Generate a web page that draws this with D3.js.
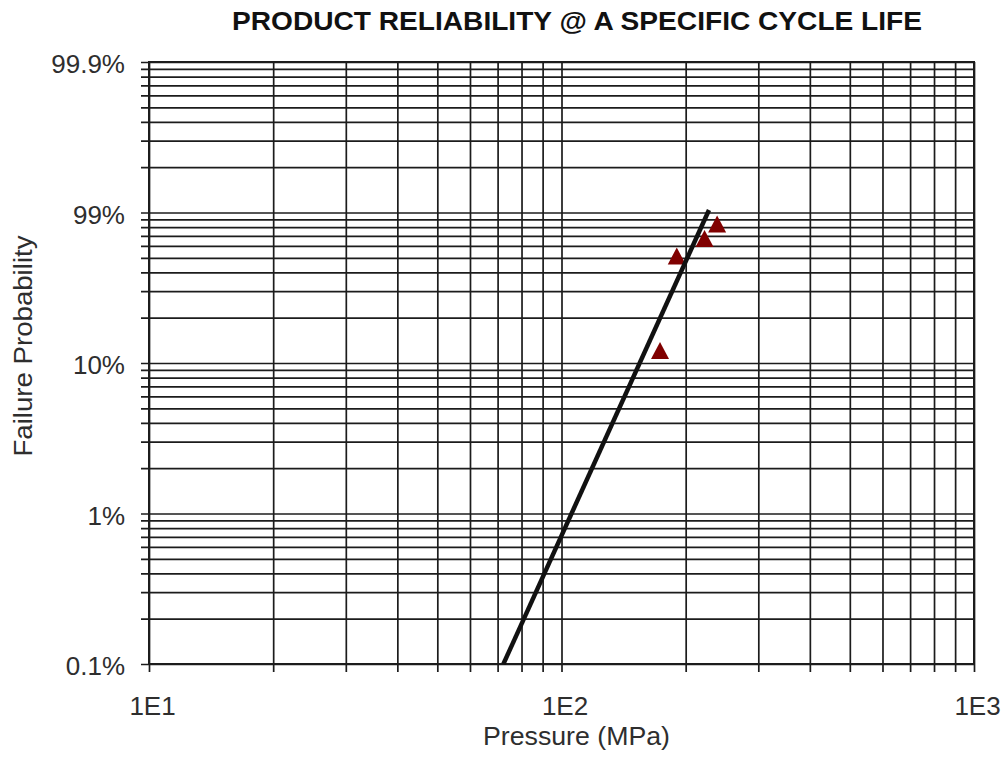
<!DOCTYPE html>
<html>
<head>
<meta charset="utf-8">
<script src="https://cdn.jsdelivr.net/npm/d3@7/dist/d3.min.js"></script>
<style>
  html, body { margin: 0; padding: 0; background: #fff; }
  svg { display: block; }
</style>
</head>
<body>
<svg id="chart" width="1005" height="768"></svg>
<script>
// ---- data ----
const titleText = "PRODUCT RELIABILITY @ A SPECIFIC CYCLE LIFE";
const xTitle = "Pressure (MPa)";
const yTitle = "Failure Probability";
const xDomain = [10, 1000];
const yDomain = [0.001, 10];
const xTickValues = [10, 100, 1000];
const xTickLabels = ["1E1", "1E2", "1E3"];
const yTickValues = [0.001, 0.01, 0.1, 1, 10];
const yTickLabels = ["0.1%", "1%", "10%", "99%", "99.9%"];
// observed points
const pressure = [173.3, 190.3, 222.2, 238.4];
const failure  = [0.121, 0.514, 0.672, 0.839];
// fitted line end points
const fitPressure = [72.3, 227.8];
const fitFailure  = [0.001, 1.039];

// ---- layout ----
const svg = d3.select("#chart");
const margin = { left: 149, top: 62 };
const width = 825, height = 602;
const gridColor = "#1c1c1c";
const textColor = "#2e2e2e";
const font = "Arial, 'Liberation Sans', sans-serif";

const x = d3.scaleLog().domain(xDomain).range([0, width]);
const y = d3.scaleLog().domain(yDomain).range([height, 0]);

const g = svg.append("g").attr("transform", `translate(${margin.left},${margin.top})`);

// vertical grid lines + outward ticks (axisBottom placed at plot top)
const xAxis = d3.axisBottom(x)
  .tickValues(x.ticks())
  .tickSizeInner(height + 8)
  .tickSizeOuter(0)
  .tickPadding(0)
  .tickFormat(d => {
    const i = xTickValues.findIndex(v => Math.abs(v - d) / v < 1e-9);
    return i >= 0 ? xTickLabels[i] : "";
  });
const gx = g.append("g").call(xAxis);
gx.select(".domain").remove();
gx.selectAll(".tick line").attr("stroke", gridColor).attr("stroke-width", 1.7);
gx.selectAll(".tick text")
  .attr("fill", textColor)
  .attr("font-family", font)
  .attr("font-size", 26)
  .attr("dy", null)
  .attr("y", height + 51)
  .attr("x", 3);

// horizontal grid lines + outward ticks (axisLeft placed at plot right)
const yAxis = d3.axisLeft(y)
  .tickValues(y.ticks())
  .tickSizeInner(width + 8)
  .tickSizeOuter(0)
  .tickPadding(16)
  .tickFormat(d => {
    const i = yTickValues.findIndex(v => Math.abs(v - d) / v < 1e-9);
    return i >= 0 ? yTickLabels[i] : "";
  });
const gy = g.append("g").attr("transform", `translate(${width},0)`).call(yAxis);
gy.select(".domain").remove();
gy.selectAll(".tick line").attr("stroke", gridColor).attr("stroke-width", 1.7);
gy.selectAll(".tick text")
  .attr("fill", textColor)
  .attr("font-family", font)
  .attr("font-size", 26)
  .attr("dy", "0.42em");

// plot border
g.append("rect")
  .attr("x", 0).attr("y", 0)
  .attr("width", width).attr("height", height)
  .attr("fill", "none")
  .attr("stroke", gridColor)
  .attr("stroke-width", 2);

// triangle markers (centered on bounding box)
const triType = {
  draw(ctx, size) {
    const hw = 9, hh = 8.5;
    ctx.moveTo(0, -hh);
    ctx.lineTo(hw, hh);
    ctx.lineTo(-hw, hh);
    ctx.closePath();
  }
};
const pts = pressure.map((p, i) => ({ p, f: failure[i] }));
g.append("g").selectAll("path")
  .data(pts)
  .join("path")
  .attr("transform", d => `translate(${x(d.p)},${y(d.f)})`)
  .attr("d", d3.symbol().type(triType).size(1))
  .attr("fill", "#800000");

// fitted line
const fit = fitPressure.map((p, i) => ({ p, f: fitFailure[i] }));
g.append("path")
  .datum(fit)
  .attr("d", d3.line().x(d => x(d.p)).y(d => y(d.f)))
  .attr("fill", "none")
  .attr("stroke", "#111")
  .attr("stroke-width", 4.5);

// title
svg.append("text")
  .attr("x", 577).attr("y", 30)
  .attr("text-anchor", "middle")
  .attr("font-family", font)
  .attr("font-weight", "bold")
  .attr("font-size", 25)
  .attr("fill", "#111")
  .attr("textLength", 690)
  .attr("lengthAdjust", "spacingAndGlyphs")
  .text(titleText);

// axis titles
svg.append("text")
  .attr("x", margin.left + x(Math.sqrt(xDomain[0] * xDomain[1])) + 15)
  .attr("y", 745)
  .attr("text-anchor", "middle")
  .attr("font-family", font)
  .attr("font-size", 26)
  .attr("fill", textColor)
  .attr("textLength", 187)
  .attr("lengthAdjust", "spacingAndGlyphs")
  .text(xTitle);

svg.append("text")
  .attr("transform", "translate(32,346) rotate(-90)")
  .attr("text-anchor", "middle")
  .attr("font-family", font)
  .attr("font-size", 25)
  .attr("fill", textColor)
  .attr("textLength", 221)
  .attr("lengthAdjust", "spacingAndGlyphs")
  .text(yTitle);
</script>
</body>
</html>
